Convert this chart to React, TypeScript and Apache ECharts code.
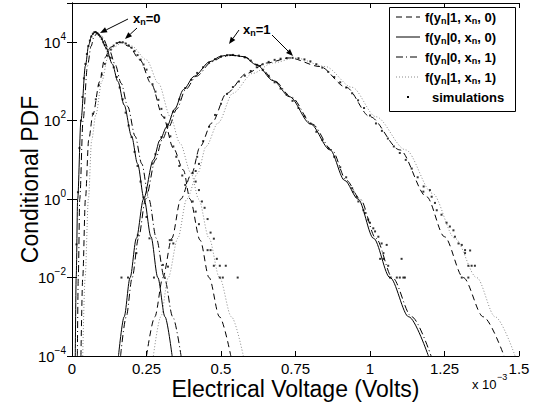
import React, { useEffect, useRef } from 'react';
import * as echarts from 'echarts';

// x values in units of 1e-3 V, y values = conditional PDF
const xTicks = [0, 0.25, 0.5, 0.75, 1, 1.25, 1.5];
const yMin = 1e-4;
const yMax = 1e5;

const legendLabels = [
  'f(y{sub|n}|1, x{sub|n}, 0)',
  'f(y{sub|n}|0, x{sub|n}, 0)',
  'f(y{sub|n}|0, x{sub|n}, 1)',
  'f(y{sub|n}|1, x{sub|n}, 1)',
  'simulations',
];

// x_n = 0 group
const solid_xn0 = [
  [0.011, 1e-4], [0.014, 1e-2], [0.019, 1], [0.03, 100], [0.045, 2500], [0.056, 8500], [0.066, 1.5e4],
  [0.078, 1.86e4], [0.095, 1.4e4], [0.115, 7080], [0.135, 2800], [0.154, 1000], [0.175, 250], [0.2, 40],
  [0.22, 8], [0.242, 1], [0.265, 0.11], [0.288, 1e-2], [0.312, 1e-3], [0.336, 1e-4],
];
const dashdot_xn0 = [
  [0.018, 1e-4], [0.021, 1e-2], [0.026, 1], [0.037, 100], [0.052, 2500], [0.064, 7900], [0.074, 1.4e4],
  [0.085, 1.7e4], [0.102, 1.35e4], [0.125, 6300], [0.145, 2700], [0.165, 900], [0.187, 230], [0.212, 40],
  [0.234, 8], [0.258, 1], [0.283, 0.1], [0.31, 1e-2], [0.338, 1e-3], [0.366, 1e-4],
];
const dashed_xn0 = [
  [0.03, 1e-4], [0.036, 1e-2], [0.045, 1], [0.056, 32], [0.07, 141], [0.093, 1000], [0.11, 4000],
  [0.13, 7500], [0.16, 1e4], [0.19, 8000], [0.228, 3550], [0.265, 900], [0.306, 126], [0.34, 20],
  [0.374, 5.5], [0.396, 1], [0.43, 0.09], [0.46, 1e-2], [0.495, 1e-3], [0.533, 1e-4],
];
const dotted_xn0 = [
  [0.036, 1e-4], [0.044, 1e-2], [0.055, 1], [0.066, 32], [0.08, 141], [0.1, 1000], [0.12, 4000],
  [0.14, 7500], [0.17, 1e4], [0.2, 8000], [0.25, 3550], [0.29, 900], [0.33, 126], [0.362, 27],
  [0.4, 4.5], [0.425, 1], [0.46, 0.1], [0.495, 1e-2], [0.535, 1e-3], [0.575, 1e-4],
];

// x_n = 1 group
const solid_xn1 = [
  [0.156, 1e-4], [0.175, 1e-3], [0.195, 1e-2], [0.216, 0.1], [0.24, 1], [0.273, 10], [0.295, 32],
  [0.318, 70], [0.345, 200], [0.374, 620], [0.41, 1350], [0.463, 3200], [0.5, 4400], [0.53, 4790],
  [0.575, 4300], [0.62, 2630], [0.675, 1050], [0.73, 407], [0.8, 83], [0.866, 18], [0.915, 3.0],
  [0.96, 1], [1.012, 0.1], [1.067, 1e-2], [1.13, 1e-3], [1.196, 1e-4],
];
const dashdot_xn1 = [
  [0.163, 1e-4], [0.182, 1e-3], [0.202, 1e-2], [0.223, 0.1], [0.247, 1], [0.28, 10], [0.302, 32],
  [0.325, 70], [0.352, 200], [0.381, 620], [0.417, 1350], [0.47, 3200], [0.506, 4300], [0.535, 4600],
  [0.58, 4200], [0.625, 2600], [0.68, 1030], [0.736, 400], [0.806, 82], [0.872, 18], [0.921, 3.0],
  [0.967, 1], [1.02, 0.1], [1.075, 1e-2], [1.14, 1e-3], [1.205, 1e-4],
];
const dashed_xn1 = [
  [0.25, 1e-4], [0.278, 1e-3], [0.305, 1e-2], [0.335, 0.1], [0.365, 1], [0.402, 4.6], [0.43, 22],
  [0.469, 87], [0.519, 500], [0.586, 1600], [0.653, 2950], [0.73, 3980], [0.832, 2400], [0.92, 708],
  [1.0, 126], [1.1, 18], [1.19, 1.15], [1.25, 0.11], [1.313, 1e-2], [1.38, 1e-3], [1.45, 1e-4],
];
const dotted_xn1 = [
  [0.273, 1e-4], [0.298, 1e-3], [0.323, 1e-2], [0.355, 0.1], [0.385, 1], [0.422, 4.6], [0.45, 22],
  [0.49, 87], [0.54, 500], [0.606, 1600], [0.673, 2950], [0.75, 3980], [0.85, 2400], [0.94, 708],
  [1.02, 126], [1.12, 18], [1.21, 1.4], [1.285, 0.1], [1.358, 1e-2], [1.42, 1e-3], [1.487, 1e-4],
];

// simulation points
const sim_xn0_a = [
  [0.015, 0.07], [0.02, 1.5], [0.025, 20], [0.03, 100], [0.035, 400], [0.04, 1200], [0.045, 2800],
  [0.05, 5000], [0.055, 8000], [0.06, 1.1e4], [0.065, 1.4e4], [0.07, 1.65e4], [0.075, 1.8e4],
  [0.08, 1.8e4], [0.085, 1.7e4], [0.09, 1.55e4], [0.095, 1.4e4], [0.1, 1.2e4], [0.105, 1e4],
  [0.11, 8500], [0.115, 7000], [0.12, 5800], [0.13, 4000], [0.14, 2300], [0.15, 1300], [0.16, 700],
  [0.17, 350], [0.18, 160], [0.19, 75], [0.2, 38], [0.21, 16], [0.22, 7], [0.23, 2.8], [0.24, 1.1],
  [0.25, 0.35], [0.26, 0.1], [0.221, 0.12], [0.216, 0.042], [0.166, 0.01], [0.188, 0.01],
  [0.275, 0.01], [0.311, 0.01], [0.305, 0.021], [0.322, 0.019], [0.328, 0.09], [0.334, 0.09], [0.34, 0.074],
];
const sim_xn0_b = [
  [0.07, 150], [0.08, 350], [0.09, 800], [0.1, 1500], [0.11, 2800], [0.12, 4500], [0.13, 6500],
  [0.14, 8200], [0.15, 9500], [0.16, 1e4], [0.17, 1e4], [0.18, 9300], [0.19, 8300], [0.2, 7200],
  [0.21, 6000], [0.22, 4700], [0.23, 3600], [0.24, 2700], [0.25, 2000], [0.26, 1300], [0.27, 850],
  [0.28, 550], [0.29, 340], [0.3, 200], [0.31, 120], [0.32, 70], [0.33, 40], [0.34, 22], [0.35, 12],
  [0.36, 7], [0.37, 4], [0.38, 2.3], [0.426, 7.9], [0.405, 4.6], [0.415, 5.2], [0.415, 2.8],
  [0.426, 1.7], [0.405, 0.87], [0.436, 0.87], [0.445, 0.6], [0.415, 0.48], [0.455, 0.31],
  [0.426, 0.23], [0.465, 0.14], [0.476, 0.098], [0.455, 0.05], [0.465, 0.05], [0.486, 0.03],
  [0.476, 0.02], [0.496, 0.02], [0.516, 0.02], [0.496, 0.01], [0.506, 0.01], [0.556, 0.01],
];
const sim_xn1_a = [
  [0.27, 8], [0.28, 14], [0.3, 38], [0.32, 80], [0.34, 170], [0.36, 350], [0.38, 680], [0.4, 1100],
  [0.42, 1650], [0.44, 2300], [0.46, 3000], [0.48, 3700], [0.5, 4300], [0.52, 4650], [0.54, 4750],
  [0.56, 4550], [0.58, 4100], [0.6, 3400], [0.62, 2650], [0.64, 1950], [0.66, 1400], [0.68, 950],
  [0.7, 660], [0.72, 460], [0.74, 320], [0.76, 210], [0.78, 130], [0.8, 85], [0.82, 52], [0.84, 32],
  [0.86, 20], [0.88, 12], [0.9, 6.5], [0.92, 3.6], [0.94, 1.9], [0.944, 1.55], [0.955, 1.15],
  [0.961, 0.87], [0.978, 0.52], [0.983, 0.44], [0.994, 0.3], [1.0, 0.25], [1.011, 0.18], [1.017, 0.15],
  [1.028, 0.11], [1.039, 0.074], [1.056, 0.068], [1.045, 0.042], [1.034, 0.03], [1.045, 0.03],
  [1.106, 0.03], [1.061, 0.02], [1.067, 0.01], [1.09, 0.01], [1.1, 0.01], [1.112, 0.01], [1.117, 0.01],
];
const sim_xn1_b = [
  [0.42, 12], [0.44, 30], [0.46, 70], [0.48, 140], [0.5, 270], [0.52, 480], [0.54, 720], [0.56, 1000],
  [0.58, 1400], [0.6, 1850], [0.62, 2300], [0.64, 2750], [0.66, 3150], [0.68, 3550], [0.7, 3800],
  [0.72, 3950], [0.74, 4000], [0.76, 3900], [0.78, 3650], [0.8, 3250], [0.82, 2750], [0.84, 2250],
  [0.86, 1750], [0.88, 1300], [0.9, 950], [0.92, 700], [0.94, 500], [0.96, 330], [0.98, 210],
  [1.0, 135], [1.02, 85], [1.04, 55], [1.06, 35], [1.08, 22], [1.1, 15], [1.12, 10], [1.14, 6],
  [1.16, 3.6], [1.18, 2.1], [1.179, 1.55], [1.201, 1.7], [1.207, 1.15], [1.218, 0.8], [1.224, 0.52],
  [1.24, 0.4], [1.257, 0.25], [1.268, 0.2], [1.28, 0.16], [1.285, 0.11], [1.297, 0.074],
  [1.308, 0.068], [1.319, 0.05], [1.319, 0.042], [1.336, 0.049], [1.33, 0.02], [1.341, 0.02],
  [1.352, 0.02], [1.308, 0.01], [1.33, 0.01],
];

const FONT = '"Liberation Sans", Arial, Helvetica, sans-serif';
const DASHED = [6, 4];
const DASHDOT = [7, 3, 1, 3];
const DOTTED = [1, 2];
const DOT_COLOR = '#8a8a8a';

function curve(name: string, data: number[][], dash: any, color = '#000') {
  return {
    type: 'line',
    name,
    data,
    symbol: 'none',
    smooth: 0.3,
    smoothMonotone: 'x',
    silent: true,
    z: 3,
    lineStyle: { color, width: 1, type: dash },
  };
}

function arrow(x1: number, y1: number, x2: number, y2: number) {
  const ang = Math.atan2(y2 - y1, x2 - x1);
  const L = 7;
  const W = 2.8;
  const bx = x2 - L * Math.cos(ang);
  const by = y2 - L * Math.sin(ang);
  const px = -Math.sin(ang) * W;
  const py = Math.cos(ang) * W;
  return [
    { type: 'line', z: 100, shape: { x1, y1, x2: bx, y2: by }, style: { stroke: '#000', lineWidth: 1 } },
    { type: 'polygon', z: 100, shape: { points: [[x2, y2], [bx + px, by + py], [bx - px, by - py]] }, style: { fill: '#000' } },
  ];
}

const subRich = { sub: { fontSize: 9, fontWeight: 'bold', fontFamily: FONT, padding: [8, 0, 0, 0] } };

function legendGraphics() {
  const els: any[] = [];
  els.push({ type: 'rect', z: 100, shape: { x: 389.5, y: 7.5, width: 126, height: 104 }, style: { fill: '#fff', stroke: '#000', lineWidth: 1 } });
  const dashes = [DASHED, null, DASHDOT, DOTTED];
  const colors = ['#000', '#000', '#000', DOT_COLOR];
  for (let i = 0; i < 4; i++) {
    const y = 17 + i * 20;
    els.push({
      type: 'line', z: 101, shape: { x1: 396, y1: y, x2: 420, y2: y },
      style: { stroke: colors[i], lineWidth: 1, lineDash: dashes[i] || undefined },
    });
    els.push({
      type: 'text', z: 101,
      style: { text: legendLabels[i], x: 425, y, textVerticalAlign: 'middle', fill: '#000', fontSize: 13, fontWeight: 'bold', fontFamily: FONT, rich: subRich },
    });
  }
  els.push({ type: 'rect', z: 101, shape: { x: 407, y: 96, width: 2, height: 2 }, style: { fill: '#000' } });
  els.push({
    type: 'text', z: 101,
    style: { text: legendLabels[4], x: 432, y: 97, textVerticalAlign: 'middle', fill: '#000', fontSize: 13, fontWeight: 'bold', fontFamily: FONT },
  });
  return els;
}

function supFormat(v: number) {
  const e = Math.round(Math.log10(v));
  if (e > 4 || e % 2 !== 0) return '';
  return '10{sup|' + (e < 0 ? '\u2212' + -e : String(e)) + '}';
}

export default function App() {
  const ref = useRef<HTMLDivElement>(null);
  useEffect(() => {
    const chart = echarts.init(ref.current!, null, { renderer: 'svg' });
    const axisLine = { show: true, lineStyle: { color: '#000', width: 1 } };
    const tick = { show: true, inside: true, length: 5, lineStyle: { color: '#000', width: 1 } };
    const option: any = {
      animation: false,
      backgroundColor: '#fff',
      grid: { left: 72, right: 20, top: 3, bottom: 49, containLabel: false, outerBoundsMode: 'none' },
      xAxis: [
        {
          type: 'value', min: xTicks[0], max: xTicks[xTicks.length - 1], interval: 0.25,
          axisLine, axisTick: tick, splitLine: { show: false },
          axisLabel: { color: '#000', fontSize: 15, fontFamily: FONT, margin: 5 },
          name: 'Electrical Voltage (Volts)', nameLocation: 'middle', nameGap: 21, nameMoveOverlap: false,
          nameTextStyle: { color: '#000', fontSize: 23, fontFamily: FONT },
        },
        {
          type: 'value', position: 'top', min: xTicks[0], max: xTicks[xTicks.length - 1], interval: 0.25,
          axisLine, axisTick: tick, splitLine: { show: false }, axisLabel: { show: false },
        },
      ],
      yAxis: [
        {
          type: 'log', logBase: 100, min: yMin, max: yMax,
          axisLine, axisTick: tick, splitLine: { show: false }, minorTick: { show: false },
          axisLabel: {
            color: '#000', fontSize: 15, fontFamily: FONT, margin: 6, formatter: supFormat,
            rich: { sup: { fontSize: 10, fontFamily: FONT, color: '#000', padding: [0, 0, 12, 0] } },
          },
          name: 'Conditional PDF', nameLocation: 'middle', nameGap: 31, nameMoveOverlap: false,
          nameTextStyle: { color: '#000', fontSize: 23, fontFamily: FONT },
        },
        {
          type: 'log', logBase: 100, min: yMin, max: yMax, position: 'right',
          axisLine, axisTick: tick, splitLine: { show: false }, minorTick: { show: false }, axisLabel: { show: false },
        },
      ],
      series: [
        curve('f(y|1,x,0) x=0', dashed_xn0, DASHED),
        curve('f(y|0,x,0) x=0', solid_xn0, 'solid'),
        curve('f(y|0,x,1) x=0', dashdot_xn0, DASHDOT),
        curve('f(y|1,x,1) x=0', dotted_xn0, DOTTED, DOT_COLOR),
        curve('f(y|1,x,0) x=1', dashed_xn1, DASHED),
        curve('f(y|0,x,0) x=1', solid_xn1, 'solid'),
        curve('f(y|0,x,1) x=1', dashdot_xn1, DASHDOT),
        curve('f(y|1,x,1) x=1', dotted_xn1, DOTTED, DOT_COLOR),
        {
          type: 'scatter', name: 'simulations', symbol: 'rect', symbolSize: 2, silent: true, z: 4,
          itemStyle: { color: '#000' },
          data: [...sim_xn0_a, ...sim_xn0_b, ...sim_xn1_a, ...sim_xn1_b],
        },
      ],
      graphic: [
        ...legendGraphics(),
        { type: 'text', z: 100, style: { text: 'x{sub|n}=0', x: 133, y: 18, textVerticalAlign: 'middle', fill: '#000', fontSize: 13, fontWeight: 'bold', fontFamily: FONT, rich: subRich } },
        { type: 'text', z: 100, style: { text: 'x{sub|n}=1', x: 243, y: 29, textVerticalAlign: 'middle', fill: '#000', fontSize: 13, fontWeight: 'bold', fontFamily: FONT, rich: subRich } },
        ...arrow(128, 19, 100, 33),
        ...arrow(137, 28, 125, 39),
        ...arrow(239, 30, 229, 44),
        ...arrow(272, 35, 293, 56),
        { type: 'text', z: 100, style: { text: 'x 10', x: 472, y: 384, textVerticalAlign: 'middle', fill: '#000', fontSize: 13, fontFamily: FONT } },
        { type: 'text', z: 100, style: { text: '\u22123', x: 497, y: 377, textVerticalAlign: 'middle', fill: '#000', fontSize: 9, fontFamily: FONT } },
      ],
    };
    chart.setOption(option);
    return () => chart.dispose();
  }, []);
  return <div ref={ref} style={{ position: 'absolute', left: 0, top: 0, width: 539, height: 405, background: '#fff' }} />;
}
